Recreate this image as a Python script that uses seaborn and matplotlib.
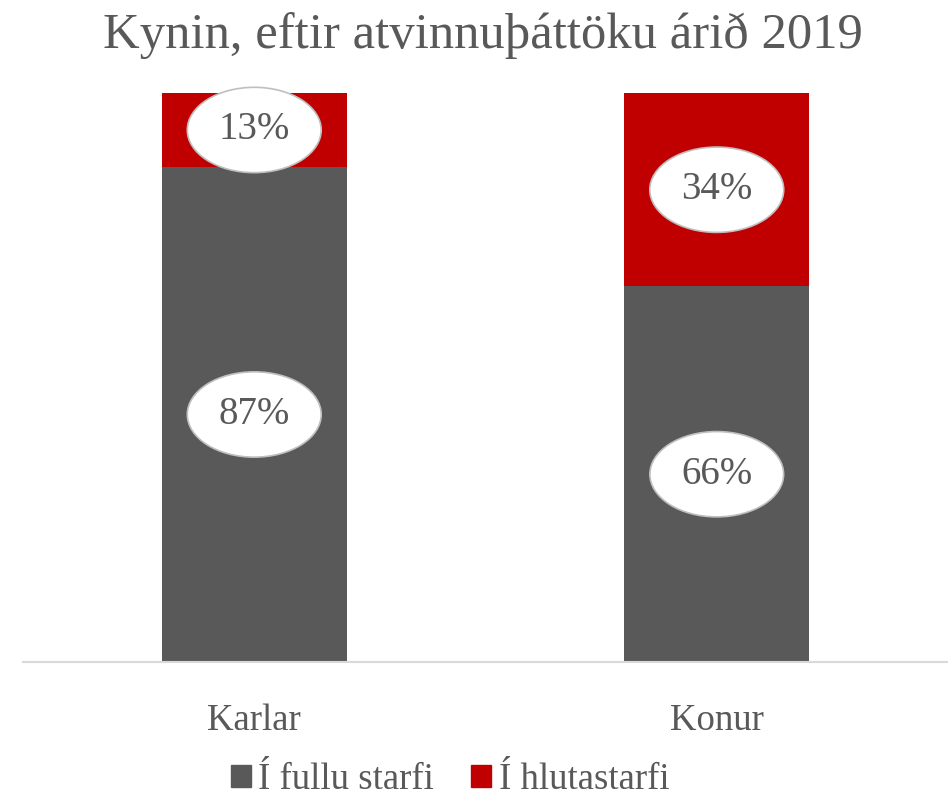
import numpy as np
import pandas as pd
import matplotlib
matplotlib.use("Agg")
import matplotlib.pyplot as plt
import seaborn as sns
from matplotlib.patches import Patch

# data
categories = ["Karlar", "Konur"]
full_time = [87, 66]
part_time = [13, 34]
series_names = ["Í fullu starfi", "Í hlutastarfi"]

GRAY = "#595959"
RED = "#C00000"
TXT = "#595959"

sns.set_theme(style="white")
plt.rcParams["font.family"] = ["Liberation Serif", "DejaVu Serif"]

df = pd.DataFrame({"kyn": categories, "full": full_time, "part": part_time})
df["total"] = df["full"] + df["part"]

fig = plt.figure(figsize=(9.48, 8.02), dpi=100)
ax = fig.add_axes([23 / 948, 1 - 662 / 802, 925 / 948, (662 - 93) / 802])

# stacked bars: total in red, full-time drawn over it in gray
sns.barplot(data=df, x="kyn", y="total", color=RED, width=0.4, ax=ax,
            saturation=1, linewidth=0)
sns.barplot(data=df, x="kyn", y="full", color=GRAY, width=0.4, ax=ax,
            saturation=1, linewidth=0)

ax.set_xlim(-0.5, 1.5)
ax.set_ylim(0, 100)
ax.set_xlabel("")
ax.set_ylabel("")
ax.set_yticks([])
for s in ["top", "right", "left"]:
    ax.spines[s].set_visible(False)
ax.spines["bottom"].set_color("#D9D9D9")
ax.spines["bottom"].set_linewidth(1.5)
ax.tick_params(axis="x", length=0, pad=30, labelsize=26.5, labelcolor=TXT)

bbox = dict(boxstyle="ellipse,pad=0.3", fc="white", ec="#BFBFBF", lw=1.2)
for i, row in df.iterrows():
    ax.text(i, row["full"] / 2, f"{row['full']}%", ha="center", va="center",
            fontsize=28, color=TXT, bbox=bbox)
    ax.text(i, row["full"] + row["part"] / 2, f"{row['part']}%", ha="center",
            va="center", fontsize=28, color=TXT, bbox=bbox)

fig.suptitle("Kynin, eftir atvinnuþáttöku árið 2019", fontsize=36.5, color=TXT,
             x=483 / 948, y=1 - 36 / 802, va="center")

handles = [Patch(color=GRAY, label=series_names[0]),
           Patch(color=RED, label=series_names[1])]
fig.legend(handles=handles, loc="center", bbox_to_anchor=(450 / 948, 1 - 780 / 802),
           ncol=2, frameon=False, fontsize=26.5, labelcolor=TXT,
           handlelength=0.55, handleheight=0.55, handletextpad=0.2, columnspacing=1.0)

fig.savefig("out.png", dpi=100)
